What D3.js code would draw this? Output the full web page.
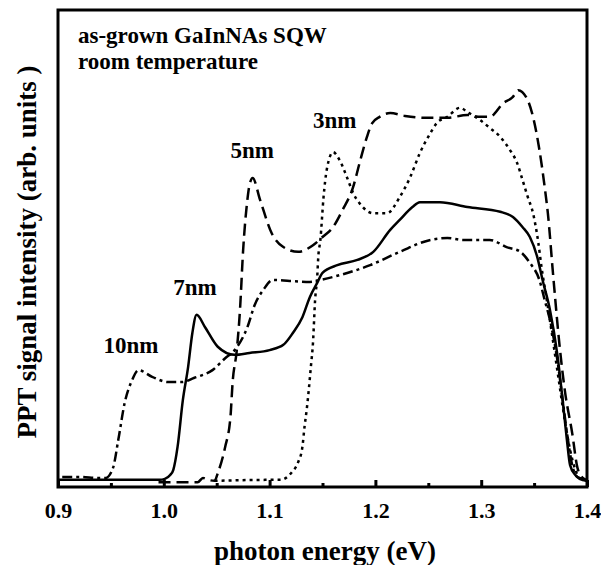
<!DOCTYPE html>
<html lang="en">
<head>
<meta charset="UTF-8" />
<title>PPT spectra</title>
<style>
  html, body {
    margin: 0;
    padding: 0;
    background: #fff;
  }
  svg {
    display: block;
    font-family: "Liberation Serif", "Times New Roman", serif;
    font-weight: bold;
  }
  .curve {
    fill: none;
    stroke: #000;
    stroke-width: 2.5px;
    stroke-linejoin: round;
  }
  .frame {
    fill: none;
    stroke: #000;
    stroke-width: 3px;
  }
  .axis .domain { display: none; }
  .axis line { stroke: #000; stroke-width: 3px; }
</style>
</head>
<body>
<svg width="601" height="565"></svg>

<script src="https://d3js.org/d3.v7.min.js"></script>
<script>
// photon energy (eV) and PPT signal (arb. units)
const e10 = [0.904,0.921,0.938,0.945,0.952,0.957,0.963,0.970,0.976,0.989,1.004,1.017,1.029,1.046,1.058,1.067,1.079,1.086,1.094,1.103,1.119,1.138,1.148,1.166,1.195,1.223,1.252,1.268,1.283,1.308,1.324,1.337,1.346,1.355,1.360,1.365,1.372,1.377,1.382,1.386,1.391,1.400];
const v10 = [0.021,0.021,0.019,0.019,0.040,0.099,0.176,0.224,0.245,0.231,0.220,0.220,0.229,0.245,0.270,0.287,0.335,0.382,0.413,0.434,0.432,0.430,0.434,0.444,0.465,0.493,0.518,0.522,0.518,0.518,0.503,0.493,0.470,0.434,0.392,0.350,0.266,0.182,0.099,0.046,0.021,0.015];

const e7 = [0.900,0.996,1.001,1.006,1.009,1.013,1.018,1.023,1.027,1.031,1.039,1.051,1.067,1.081,1.100,1.113,1.122,1.131,1.138,1.145,1.150,1.164,1.183,1.198,1.214,1.223,1.235,1.242,1.261,1.287,1.318,1.330,1.339,1.346,1.353,1.358,1.365,1.372,1.377,1.381,1.384,1.389,1.393,1.400];
const v7 = [0.015,0.015,0.017,0.025,0.036,0.084,0.182,0.252,0.323,0.361,0.335,0.294,0.277,0.281,0.287,0.298,0.323,0.356,0.398,0.428,0.449,0.465,0.476,0.493,0.539,0.560,0.587,0.597,0.597,0.587,0.577,0.566,0.545,0.524,0.482,0.434,0.371,0.277,0.182,0.099,0.046,0.025,0.017,0.013];

const e5 = [0.995,1.032,1.037,1.042,1.048,1.051,1.058,1.063,1.065,1.069,1.072,1.075,1.079,1.081,1.084,1.091,1.102,1.113,1.127,1.141,1.150,1.160,1.169,1.179,1.185,1.192,1.197,1.204,1.214,1.228,1.247,1.268,1.287,1.299,1.308,1.321,1.330,1.335,1.344,1.349,1.355,1.360,1.363,1.368,1.374,1.379,1.386,1.391,1.396,1.400];
const v5 = [0.010,0.010,0.019,0.015,0.013,0.029,0.084,0.147,0.218,0.287,0.371,0.497,0.602,0.633,0.648,0.602,0.532,0.503,0.493,0.507,0.524,0.545,0.581,0.629,0.679,0.734,0.763,0.776,0.784,0.778,0.774,0.774,0.780,0.776,0.776,0.805,0.818,0.832,0.811,0.776,0.707,0.629,0.574,0.444,0.298,0.203,0.113,0.040,0.019,0.015];

const e3 = [1.048,1.103,1.110,1.121,1.127,1.131,1.133,1.135,1.137,1.139,1.141,1.143,1.145,1.146,1.148,1.151,1.154,1.160,1.166,1.173,1.179,1.185,1.198,1.211,1.223,1.233,1.242,1.252,1.258,1.268,1.280,1.287,1.299,1.308,1.318,1.327,1.334,1.339,1.344,1.349,1.354,1.357,1.362,1.367,1.373,1.379,1.384,1.389,1.393,1.400];
const v3 = [0.013,0.015,0.015,0.031,0.052,0.084,0.126,0.161,0.203,0.252,0.302,0.392,0.440,0.482,0.518,0.608,0.665,0.702,0.686,0.650,0.616,0.595,0.574,0.574,0.608,0.650,0.700,0.742,0.763,0.776,0.795,0.786,0.769,0.753,0.734,0.707,0.679,0.644,0.608,0.574,0.512,0.461,0.392,0.319,0.229,0.140,0.078,0.036,0.019,0.013];

const seriesNames = ["10nm", "7nm", "5nm", "3nm"];
const dashes = ["10,4,3,4", null, "12,6", "3,4"];
// label anchor (left edge, baseline) in data units
const labelE = [0.943, 1.009, 1.063, 1.141];
const labelV = [0.281, 0.403, 0.690, 0.753];

const xTicks = [0.9, 1.0, 1.1, 1.2, 1.3, 1.4];
const xMinorTicks = [0.95, 1.05, 1.15, 1.25, 1.35];

const series = [
  { e: e10, v: v10 },
  { e: e7, v: v7 },
  { e: e5, v: v5 },
  { e: e3, v: v3 }
];

const svg = d3.select("svg");
const margin = { top: 10, right: 14, bottom: 78, left: 58 };
const width = 601 - margin.left - margin.right;
const height = 565 - margin.top - margin.bottom;

const g = svg.append("g").attr("transform", `translate(${margin.left},${margin.top})`);

const x = d3.scaleLinear().domain([0.9, 1.4]).range([0, width]);
const y = d3.scaleLinear().domain([0, 1]).range([height, 0]);

const line = d3.line()
  .x(d => x(d[0]))
  .y(d => y(d[1]))
  .curve(d3.curveMonotoneX);

series.forEach((s, i) => {
  g.append("path")
    .datum(s.e.map((e, k) => [e, s.v[k]]))
    .attr("class", "curve")
    .attr("stroke-dasharray", dashes[i])
    .attr("d", line);
});

// minor ticks, no labels
g.append("g")
  .attr("class", "axis")
  .attr("transform", `translate(0,${height})`)
  .call(d3.axisBottom(x).tickValues(xMinorTicks).tickSize(-4).tickFormat(""));

const xAxis = g.append("g")
  .attr("class", "axis")
  .attr("transform", `translate(0,${height})`)
  .call(d3.axisBottom(x).tickValues(xTicks).tickSize(-7).tickPadding(15).tickFormat(d3.format(".1f")));

xAxis.selectAll("text")
  .style("font-family", "'Liberation Serif', serif")
  .style("font-size", "22px")
  .style("font-weight", "bold")
  .style("fill", "#000");

g.append("rect")
  .attr("class", "frame")
  .attr("width", width)
  .attr("height", height);

// curve labels
g.selectAll(".lbl")
  .data(seriesNames)
  .join("text")
  .attr("class", "lbl")
  .attr("x", (d, i) => x(labelE[i]))
  .attr("y", (d, i) => y(labelV[i]))
  .attr("font-size", 23)
  .text(d => d);

g.append("text")
  .attr("x", 20).attr("y", 33)
  .attr("font-size", 23)
  .text("as-grown GaInNAs SQW");
g.append("text")
  .attr("x", 20).attr("y", 59)
  .attr("font-size", 23)
  .text("room temperature");

svg.append("text")
  .attr("x", 325)
  .attr("y", 560)
  .attr("text-anchor", "middle")
  .attr("font-size", 27)
  .text("photon energy (eV)");

svg.append("text")
  .attr("transform", `translate(36,252) rotate(-90)`)
  .attr("text-anchor", "middle")
  .attr("font-size", 27)
  .text("PPT signal intensity (arb. units )");
</script>
</body>
</html>
